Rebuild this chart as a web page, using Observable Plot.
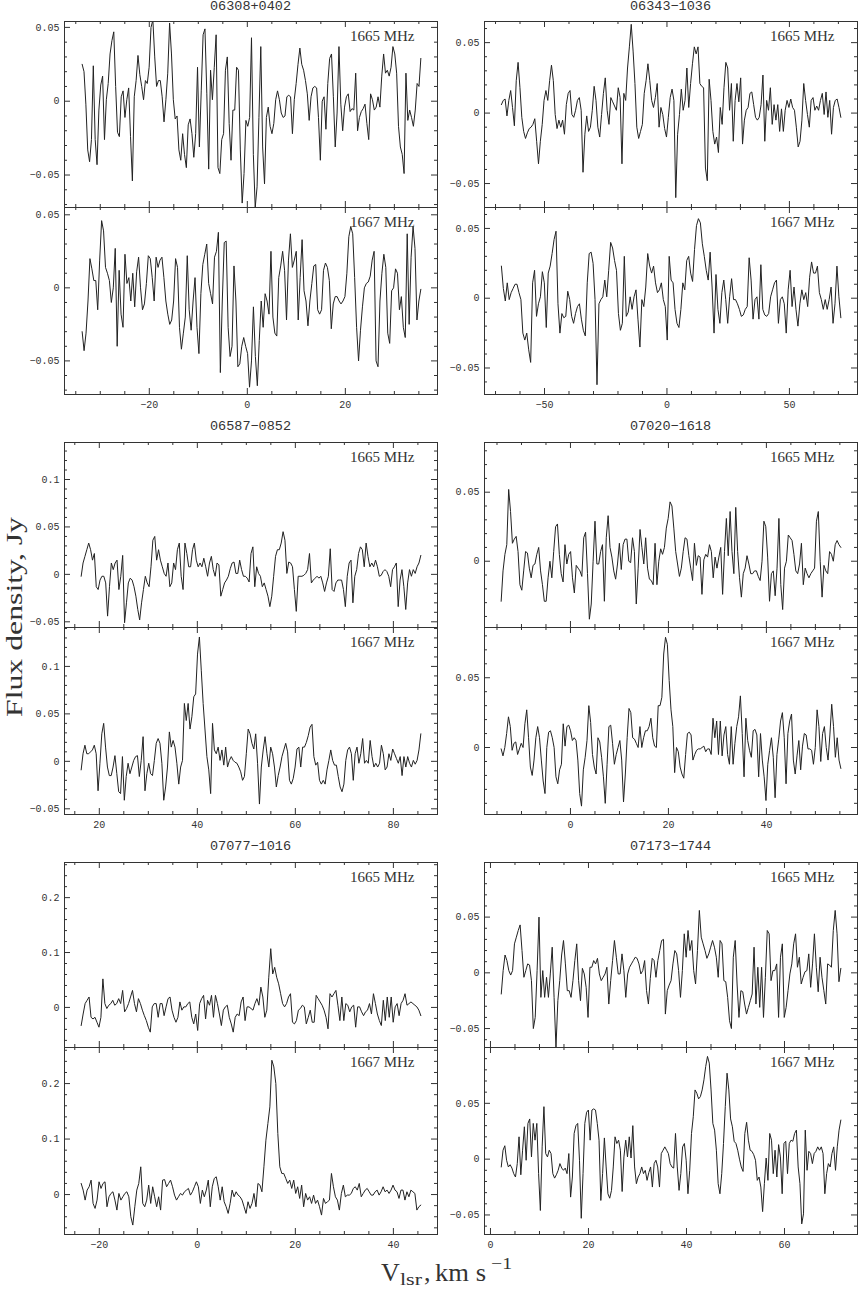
<!DOCTYPE html>
<html><head><meta charset="utf-8">
<script src="https://cdn.jsdelivr.net/npm/d3@7"></script>
<script src="https://cdn.jsdelivr.net/npm/@observablehq/plot@0.6"></script>
<style>
html,body{margin:0;padding:0;background:#fff;}
#wrap{position:relative;width:858px;height:1291px;overflow:hidden;background:#fff;}
#wrap > svg{position:absolute;}
</style></head><body><div id="wrap"></div>
<script>
// ---- sources, frequencies ----
const sources = ["06308+0402","06343-1036","06587-0852","07020-1618","07077-1016","07173-1744"];
const freqLabels = ["1665 MHz","1667 MHz"];

// ---- channel velocity range (first, last channel), km/s ----
const chanRange = {
  "06308+0402":[-33.7,35.4], "06343-1036":[-67.6,71.0], "06587-0852":[16.3,85.6],
  "07020-1618":[-14.15,55.2], "07077-1016":[-23.7,45.6], "07173-1744":[2.2,71.5]
};

// ---- flux density per channel, mJy ----
const flux_06308_1665 = [25,20,-2,-33,-41,-26,24,-26,-43,-6,11,17,-26,1,12,32,41,47,10,-21,-24,3,7,-11,1,9,-24,-54,3,14,31,18,10,1,14,12,23,50,55,30,10,14,14,3,-14,1,19,53,32,1,-12,-10,-33,-40,-22,-36,-45,-16,-12,-22,-38,-22,23,-31,7,45,49,5,-46,21,1,23,45,-45,-49,-26,-22,21,30,-15,-40,-6,-6,23,21,-33,-69,-49,-13,-17,-11,43,-36,-72,-58,-11,37,-31,-56,-11,-4,-17,-22,-15,1,7,1,-8,-11,-10,3,4,3,-22,1,12,25,36,25,21,14,5,-13,3,9,10,9,-11,-40,0,3,-19,12,29,32,3,-31,-8,37,-2,-20,-4,3,5,-7,-5,-6,19,-20,-11,-7,-5,-2,-15,-26,5,1,-6,-4,3,-4,17,32,19,21,17,23,37,32,19,-17,-31,-36,-49,19,-13,-6,-11,-17,-6,12,10,29];
const flux_06308_1667 = [-30,-43,-31,-9,20,13,5,5,-15,19,46,39,14,10,5,-10,0,27,-40,12,-18,-27,23,3,7,-9,10,-13,11,21,0,-15,-11,3,22,20,7,-9,21,14,19,21,7,-9,-18,-25,-22,-9,20,14,-27,-42,-31,-20,22,-15,-29,-9,7,-27,-45,-4,16,23,30,3,-4,-11,21,25,38,-58,-9,31,32,-27,-47,-40,15,-9,-54,-52,-40,-34,-40,-45,-68,-50,-13,-47,-67,-36,-9,-27,-4,-9,-18,25,-20,-31,-33,7,15,25,12,-22,19,37,14,19,25,-22,7,33,-2,-9,-26,-9,3,15,16,-15,-18,-15,12,17,14,5,-28,-11,-6,-6,-9,-11,-9,-6,10,35,42,37,7,-27,-50,-29,-13,0,3,4,8,19,25,-50,-54,-9,10,23,14,-31,-38,-2,0,13,10,-15,-6,-27,-34,37,-25,21,42,27,-22,-9,-1];
const flux_06343_1665 = [6,9,10,-2,9,16,4,-9,23,36,18,-3,-13,-18,-14,-11,-10,-8,-4,-20,-36,-20,-8,9,16,9,23,34,23,-1,-11,-5,-10,-5,-15,6,14,16,-1,-3,2,9,11,2,-42,-15,-2,-13,-10,2,19,9,-10,-17,-1,14,25,2,-8,11,8,5,2,18,11,-36,14,9,32,47,63,44,21,-10,-18,-13,-8,14,23,35,23,9,4,11,21,-10,4,-1,-11,-17,-3,11,17,9,-60,-15,-1,17,2,9,32,4,21,35,47,42,47,21,19,18,-39,-48,24,9,-13,-22,-17,-28,4,-8,18,36,32,2,21,-20,9,21,8,25,-22,-5,2,4,14,15,6,-3,-5,-3,6,27,-20,9,2,18,-8,6,-5,6,-13,3,-13,2,9,4,10,4,2,-10,-24,-20,-5,21,9,-1,-10,9,11,2,5,2,9,14,-1,15,-3,9,-15,4,9,10,4,-3];
const flux_06343_1667 = [23,7,-2,11,-1,4,7,10,10,4,-1,-25,-30,-25,-37,-46,11,20,-13,-4,1,19,11,-21,18,23,32,42,48,-4,-25,-11,-14,-13,5,-1,-13,-18,-11,-6,-4,-15,-23,-27,11,32,33,25,-1,-62,-4,-1,1,13,1,20,40,36,27,20,-11,-23,-18,30,-13,-10,1,-8,1,6,-15,-35,-1,-6,8,32,23,18,23,11,4,6,11,-1,-6,-30,30,13,11,-8,-18,-21,-8,11,6,27,30,18,12,35,52,57,54,39,30,20,13,33,8,-25,17,-8,-18,4,13,-1,-18,1,14,-1,-1,-4,-8,-13,-12,-8,-6,29,13,-15,-1,1,-15,24,-8,-12,-13,-11,1,6,11,13,-18,-1,1,-4,-25,6,20,-6,8,-8,-20,-4,6,-1,4,-6,15,26,18,18,23,4,-1,-8,-1,-8,-1,8,-18,-4,23,1,-14];
const flux_06587_1665 = [-2,12,19,26,33,26,15,22,-13,-16,-6,-2,-2,-9,-44,-13,12,5,12,15,-16,-2,20,-51,-30,-9,-4,-6,-13,-23,-37,-48,-30,-16,-2,-9,-13,8,36,40,15,26,15,8,1,-2,12,-13,-9,12,5,26,33,-2,-16,33,22,8,8,26,33,15,8,12,8,17,8,-2,12,19,5,-2,12,10,-23,-16,-9,-6,-2,6,12,13,1,1,15,5,-2,-2,-4,-8,22,29,-13,8,1,-2,-13,-9,-16,-23,-34,-23,-2,19,26,26,33,45,36,1,13,12,8,-16,-39,-2,-2,-2,-1,1,5,22,-9,-6,-4,-2,-4,-2,-9,-18,-9,-2,27,-16,-18,-9,-6,-6,-6,-16,-34,-2,12,15,-30,-2,5,22,29,26,8,33,19,8,12,8,15,8,-2,-1,3,5,3,-2,-13,5,8,12,-34,-6,5,-13,-37,-9,5,-2,5,1,8,12,20];
const flux_06587_1667 = [-9,8,17,8,8,10,12,17,8,-31,-2,29,40,15,-6,-15,-15,-6,6,-13,-32,-34,5,-41,-16,-2,-13,-6,1,5,6,-16,1,26,-31,-13,-2,-13,-15,1,19,24,19,-2,-41,-27,-6,31,15,22,15,-2,-24,-6,1,61,43,61,34,47,68,71,113,131,96,61,33,5,-9,-34,40,12,8,15,1,12,-4,15,-6,1,5,1,-1,-2,-6,-11,-20,-16,8,34,29,19,13,29,-2,-45,-6,12,26,8,-6,15,8,-6,-27,-15,-6,5,12,19,10,-20,-24,-18,-6,13,15,-6,15,15,20,27,36,39,5,-4,-1,-20,-24,-20,-24,-9,1,12,1,-4,-4,-16,-27,-32,-24,1,12,15,8,-20,8,15,-2,8,24,-2,1,-2,22,5,-6,-2,-6,-2,17,8,-9,-6,8,1,13,8,3,-2,5,-15,5,-6,5,-2,-6,1,-3,1,12,29];
const flux_07020_1665 = [-29,-7,5,12,52,36,13,16,18,7,-17,-21,-7,7,6,-5,-12,-3,-2,5,10,-7,-17,-29,-29,-12,0,-12,7,25,27,5,-9,-15,12,-2,5,7,-12,-23,-3,-5,-7,-11,17,21,-9,-42,-31,0,29,-2,-2,7,12,-29,17,33,10,3,-7,-13,-2,13,-6,12,16,16,0,-1,17,7,-31,-5,23,10,-2,17,-5,-13,-14,-17,13,-17,0,9,5,10,24,31,43,40,24,7,-2,-11,-5,7,17,16,4,-5,-14,13,-3,4,3,-24,1,5,3,12,7,-12,3,-5,3,10,-24,7,31,4,36,7,-9,39,7,-12,-26,-9,-5,4,-2,-9,-9,-7,-7,-11,-14,0,29,25,3,-29,-9,-7,-25,-5,31,-17,-35,-5,0,19,17,15,5,-7,-9,-2,13,-17,-5,-9,-12,-9,-7,-5,29,36,0,-26,-3,-7,-9,7,5,0,12,15,12,10];
const flux_07020_1667 = [-1,-6,0,10,22,15,-2,3,4,-5,-1,3,0,17,27,7,-14,-20,-9,7,15,7,-9,-24,-33,0,11,12,7,0,-21,-26,-16,-12,17,1,15,16,12,5,7,5,-9,-33,-42,-16,-7,5,30,18,-5,-14,-19,7,4,-7,-21,-40,-12,15,16,3,-12,-5,0,5,-9,-39,-19,7,28,25,7,6,3,0,15,0,7,12,12,15,21,7,1,0,30,30,36,67,79,74,48,27,15,-18,0,-3,-14,-19,-22,-5,10,11,9,-9,-5,-2,-1,-1,0,1,-3,-1,-1,-5,21,7,19,-5,19,-6,9,15,-5,-12,15,-12,3,15,22,37,10,-21,21,5,-2,-7,12,13,9,-21,10,-9,-21,-38,-12,-2,7,-7,-36,-5,6,19,25,7,-26,10,19,24,-9,-19,-6,5,-16,1,10,9,-1,-1,-2,-12,0,27,15,-10,10,15,0,-9,9,31,15,-7,7,-9,-15];
const flux_07077_1665 = [-33,-12,7,13,19,-18,-21,-18,-27,-36,-18,52,7,-2,4,7,13,4,7,16,7,31,-8,-2,7,19,31,7,-8,16,7,-5,-15,-24,-36,-45,1,7,7,-18,7,7,-15,1,16,19,-5,-18,-27,-18,10,-5,1,1,7,10,-18,-30,-12,-42,7,16,22,-21,13,4,22,-18,22,7,-12,-33,-5,1,4,-18,-30,-45,-18,-12,-15,10,19,-24,1,1,-2,-5,7,16,4,37,19,-18,-5,55,107,61,73,55,43,25,7,1,7,19,25,-27,-30,-24,-5,-2,4,1,-30,-18,-5,-27,-27,22,16,10,4,-5,-18,-39,25,19,25,31,4,-24,19,-24,7,4,-8,1,4,-36,1,1,-8,-15,-8,-5,7,-12,25,7,-12,-24,-33,13,-24,19,-18,19,-27,1,7,-15,7,13,25,4,7,10,7,4,1,-5,-15];
const flux_07077_1667 = [20,8,-10,8,14,26,-16,-25,-10,23,11,20,23,-22,-4,2,5,-10,-28,2,-10,-4,2,5,-4,-40,-55,-22,8,20,50,-16,-22,-10,17,-16,14,-4,-22,-4,-28,26,27,14,20,26,14,-1,-10,-4,2,-1,5,8,11,-1,5,14,23,14,-16,8,-4,8,26,-22,14,29,32,14,-10,14,-13,-22,-34,-16,8,-4,5,-1,-4,-10,-22,-34,-13,-25,-16,2,-22,20,17,5,50,98,128,158,242,230,200,110,50,38,38,29,20,26,11,26,2,14,-7,17,-22,2,-10,-4,-16,-1,-16,-10,-22,-37,-7,-16,-13,-10,38,14,-4,-10,-28,2,17,-4,-1,-1,2,11,14,8,20,-4,2,8,11,5,-1,-1,5,8,-1,5,14,5,8,2,8,17,8,5,-7,8,8,-10,5,-4,8,5,2,-28,-22,-19];
const flux_07173_1665 = [-19,2,16,11,2,-2,2,26,32,38,43,20,-4,2,8,7,-7,-50,-40,2,50,-22,2,-22,-4,-22,-1,23,-22,-67,-25,-7,16,29,8,-16,-16,-22,-7,11,26,-7,-25,4,-1,-13,-40,5,5,11,8,13,-1,-7,-4,-1,5,-28,-7,11,29,14,-1,-1,17,2,-22,-1,5,8,11,14,13,8,-1,2,11,-16,-28,-5,13,11,-4,11,20,29,30,-37,-16,-11,-7,8,20,17,2,-22,2,35,14,38,20,29,2,-10,20,56,32,26,20,13,17,23,29,23,14,-4,29,26,-7,-8,-22,-43,-50,14,29,-10,-40,-16,-17,-28,-37,-31,-25,-19,23,-28,5,-31,5,-40,-4,38,35,-7,2,2,8,-40,14,26,-40,-31,-16,-1,8,26,35,5,14,-10,-4,1,2,17,-13,8,35,5,-17,14,-4,-16,-28,8,7,5,38,56,35,-8,4];
const flux_07173_1667 = [-7,8,12,-1,-7,-5,-8,-13,-16,-4,20,-14,8,29,-1,32,36,2,32,17,32,-13,-46,11,47,5,2,8,5,-13,-17,-14,-10,-4,-8,-10,-8,-13,5,-34,-16,23,30,32,-1,-53,-13,32,42,44,17,44,45,44,32,17,-37,-13,19,-7,-31,-35,-28,-7,20,14,17,8,-29,2,17,2,20,1,30,-7,-22,-16,-13,-7,-13,-10,-19,-12,-7,-25,-4,-1,-7,-25,5,8,11,8,5,-4,-7,-8,23,-7,-28,-13,11,14,-1,-31,-10,23,38,62,59,54,56,62,71,83,92,86,62,32,26,8,-22,-31,-13,14,47,77,62,36,29,16,14,8,0,-7,-11,23,33,17,8,7,4,-1,-19,-16,-25,-47,-22,1,-19,23,17,-13,8,-16,13,2,-31,14,16,-13,14,17,16,23,26,-7,-22,-58,-49,26,-10,7,5,-4,5,7,11,8,11,5,-31,-13,-4,-7,5,11,-10,11,26,35];

const spectra = {
  "06308+0402":[flux_06308_1665, flux_06308_1667],
  "06343-1036":[flux_06343_1665, flux_06343_1667],
  "06587-0852":[flux_06587_1665, flux_06587_1667],
  "07020-1618":[flux_07020_1665, flux_07020_1667],
  "07077-1016":[flux_07077_1665, flux_07077_1667],
  "07173-1744":[flux_07173_1665, flux_07173_1667]
};

// ---- axis domains ----
const xDomains = {
  "06308+0402":[-37.3,38.8], "06343-1036":[-74.5,77.8], "06587-0852":[12.9,89.0],
  "07020-1618":[-17.55,58.6], "07077-1016":[-27.1,49.0], "07173-1744":[-1.22,74.9]
};
const yDomains = {
  "06308+0402":[[-0.072,0.054],[-0.073,0.055]],
  "06343-1036":[[-0.067,0.065],[-0.069,0.065]],
  "06587-0852":[[-0.056,0.139],[-0.056,0.141]],
  "07020-1618":[[-0.048,0.086],[-0.048,0.086]],
  "07077-1016":[[-0.073,0.264],[-0.072,0.265]],
  "07173-1744":[[-0.067,0.099],[-0.0675,0.1]]
};
// ---- tick labels ----
const xTickLabels = {
  "06308+0402":[-20,0,20], "06343-1036":[-50,0,50], "06587-0852":[20,40,60,80],
  "07020-1618":[0,20,40], "07077-1016":[-20,0,20,40], "07173-1744":[0,20,40,60]
};
const yTickLabels = {
  "06308+0402":[[-0.05,0,0.05],[-0.05,0,0.05]],
  "06343-1036":[[-0.05,0,0.05],[-0.05,0,0.05]],
  "06587-0852":[[-0.05,0,0.05,0.1],[-0.05,0,0.05,0.1]],
  "07020-1618":[[0,0.05],[0,0.05]],
  "07077-1016":[[0,0.1,0.2],[0,0.1,0.2]],
  "07173-1744":[[-0.05,0,0.05],[-0.05,0,0.05]]
};
const xMinorStep = {"06308+0402":5,"06343-1036":10,"06587-0852":5,"07020-1618":5,"07077-1016":5,"07173-1744":5};
const yMinorStep = {"06308+0402":0.01,"06343-1036":0.01,"06587-0852":0.01,"07020-1618":0.01,"07077-1016":0.02,"07173-1744":0.01};

// ---- layout (frame edges, px) ----
const colLeft = [64, 484], FW = 373;
const rowTop = [21, 442, 862], rowSplit = [207, 627, 1047], rowBottom = [394, 814, 1234];

const fmt = d => String(Math.round(d*1000)/1000).replace("-", "\u2212");
const stepTicks = (dom, step) => d3.range(Math.ceil(dom[0]/step - 1e-9), Math.floor(dom[1]/step + 1e-9) + 1).map(k => +(k*step).toFixed(6));

const wrap = document.getElementById("wrap");
const INK = "#333";

sources.forEach((src, i) => {
  const col = i % 2, row = Math.floor(i / 2);
  [0, 1].forEach(k => {
    const FL = colLeft[col];
    const FT = k === 0 ? rowTop[row] : rowSplit[row];
    const FB = k === 0 ? rowSplit[row] : rowBottom[row];
    const FH = FB - FT;
    const mL = 48, mR = 4, mT = 4, mB = k === 1 ? 24 : 4;
    const flux = spectra[src][k];
    const [v0, v1] = chanRange[src];
    const n = flux.length;
    const data = flux.map((f, j) => ({v: v0 + (v1 - v0) * j / (n - 1), f: f / 1000}));
    const xDom = xDomains[src], yDom = yDomains[src][k];
    const xMaj = xTickLabels[src].filter(t => t >= xDom[0] && t <= xDom[1]);
    const xMin = stepTicks(xDom, xMinorStep[src]).filter(t => !xMaj.includes(t));
    const yMaj = yTickLabels[src][k];
    const yMin = stepTicks(yDom, yMinorStep[src]).filter(t => !yMaj.some(m => Math.abs(m - t) < 1e-6));
    const LM = 6, Lm = 3;
    const marks = [
      Plot.line(data, {x: "v", y: "f", stroke: "#222", strokeWidth: 1, clip: true}),
      Plot.frame({stroke: INK, strokeWidth: 1}),
      Plot.tickX(xMaj, {x: d => d, insetTop: FH - LM, stroke: INK}),
      Plot.tickX(xMaj, {x: d => d, insetBottom: FH - LM, stroke: INK}),
      Plot.tickX(xMin, {x: d => d, insetTop: FH - Lm, stroke: INK}),
      Plot.tickX(xMin, {x: d => d, insetBottom: FH - Lm, stroke: INK}),
      Plot.tickY(yMaj, {y: d => d, insetRight: FW - LM, stroke: INK}),
      Plot.tickY(yMaj, {y: d => d, insetLeft: FW - LM, stroke: INK}),
      Plot.tickY(yMin, {y: d => d, insetRight: FW - Lm, stroke: INK}),
      Plot.tickY(yMin, {y: d => d, insetLeft: FW - Lm, stroke: INK}),
      Plot.text(yMaj, {y: d => d, text: d => fmt(d), frameAnchor: "left", textAnchor: "end", dx: -5, fill: INK}),
      Plot.text([freqLabels[k]], {frameAnchor: "top-right", textAnchor: "end", lineAnchor: "bottom", dx: -23, dy: 19.5,
        fontFamily: "Liberation Serif, serif", fontSize: 15, fill: INK})
    ];
    if (k === 1) marks.push(Plot.text(xMaj, {x: d => d, text: d => fmt(d), frameAnchor: "bottom", lineAnchor: "top", dy: 6, fill: INK}));
    const svg = Plot.plot({
      width: mL + FW + mR, height: mT + FH + mB,
      marginLeft: mL, marginRight: mR, marginTop: mT, marginBottom: mB,
      x: {domain: xDom, axis: null},
      y: {domain: yDom, axis: null},
      style: {background: "transparent", overflow: "visible", fontFamily: "Liberation Mono, monospace", fontSize: "10px", color: INK},
      marks
    });
    svg.style.left = (FL - mL) + "px";
    svg.style.top = (FT - mT) + "px";
    wrap.appendChild(svg);
  });
});

// ---- titles and axis titles ----
const ns = "http://www.w3.org/2000/svg";
const ov = document.createElementNS(ns, "svg");
ov.setAttribute("width", 858); ov.setAttribute("height", 1291);
ov.style.left = "0px"; ov.style.top = "0px"; ov.style.pointerEvents = "none";
const titleBase = [9.5, 429.5, 849.5];
let html = "";
sources.forEach((src, i) => {
  const col = i % 2, row = Math.floor(i / 2);
  html += `<text x="${colLeft[col] + FW/2}" y="${titleBase[row]}" text-anchor="middle" font-family="Liberation Mono, monospace" font-size="13.5" fill="${INK}">${src.replace("-", "\u2212")}</text>`;
});
const serif = "Liberation Serif, serif";
html += `<text transform="translate(22,617) rotate(-90)" text-anchor="middle" font-family="${serif}" font-size="24" fill="${INK}" textLength="200" lengthAdjust="spacingAndGlyphs">Flux density, Jy</text>`;
html += `<text x="381" y="1281" font-family="${serif}" font-size="26" fill="${INK}">V</text>`;
html += `<text x="400" y="1285" font-family="${serif}" font-size="16" fill="${INK}" textLength="22" lengthAdjust="spacingAndGlyphs">lsr</text>`;
html += `<text x="424" y="1281" font-family="${serif}" font-size="26" fill="${INK}">,</text>`;
html += `<text x="435" y="1281" font-family="${serif}" font-size="26" fill="${INK}" textLength="51" lengthAdjust="spacingAndGlyphs">km s</text>`;
html += `<text x="491" y="1269" font-family="${serif}" font-size="17" fill="${INK}" textLength="21" lengthAdjust="spacingAndGlyphs">\u22121</text>`;
ov.innerHTML = html;
wrap.appendChild(ov);
</script></body></html>
